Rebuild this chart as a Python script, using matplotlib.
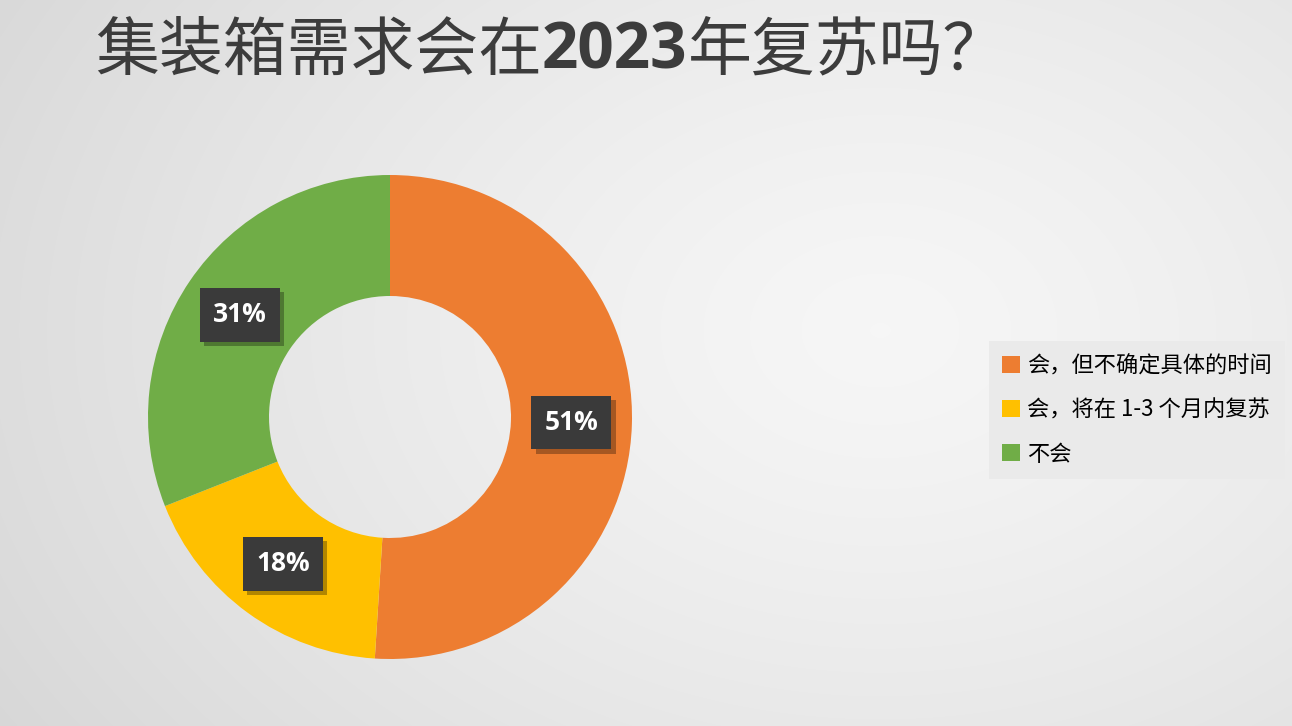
import numpy as np
import matplotlib
matplotlib.use("Agg")
import matplotlib.pyplot as plt
from matplotlib.patches import Patch
import matplotlib.patheffects as pe

plt.rcParams['font.family'] = ['Noto Sans CJK SC', 'DejaVu Sans']

# data
categories = ["会，但不确定具体的时间", "会，将在 1-3 个月内复苏", "不会"]
shares = [51, 18, 31]
colors = ["#ED7D31", "#FFC000", "#70AD47"]
title_parts = ["集装箱需求会在", "2023", "年复苏吗？"]

W, H = 1292, 726
fig = plt.figure(figsize=(W / 100, H / 100), dpi=100)

# gray radial background
bg = fig.add_axes([0, 0, 1, 1])
yy, xx = np.mgrid[0:H, 0:W]
d = np.sqrt(((xx - 880) / 900.0) ** 2 + ((yy - 330) / 650.0) ** 2)
shade = 0.965 - 0.10 * np.clip(d, 0, 1.3) ** 1.3
rgb = np.dstack([shade, shade, shade])
bg.imshow(rgb, extent=[0, W, H, 0], aspect="auto", interpolation="bilinear")
bg.set_xlim(0, W)
bg.set_ylim(H, 0)
bg.axis("off")

# donut
cx, cy, R = 390, 417, 242
ax = fig.add_axes([(cx - R) / W, (H - cy - R) / H, 2 * R / W, 2 * R / H])
wedges, texts, autotexts = ax.pie(
    shares, colors=colors, startangle=90, counterclock=False,
    autopct="%d%%", pctdistance=0.75,
    wedgeprops=dict(width=0.5, edgecolor="none"))
for t in autotexts:
    t.set_color("white")
    t.set_fontsize(19)
    t.set_fontweight("bold")
    t.set_family(["Open Sans", "DejaVu Sans"])
    t.set_bbox(dict(boxstyle="square,pad=0.5", facecolor="#3a3a3a", edgecolor="none"))
    t.get_bbox_patch().set_path_effects([pe.SimplePatchShadow(offset=(3, -3), shadow_rgbFace="black", alpha=0.3),
                                         pe.Normal()])
ax.set_xlim(-1, 1)
ax.set_ylim(-1, 1)
ax.set_aspect("auto")
ax.axis("off")

# legend
handles = [Patch(facecolor=c, edgecolor="none") for c in colors]
leg = fig.legend(handles, categories, loc="upper left",
                 bbox_to_anchor=(978 / W, 1 - 330 / H),
                 fontsize=16, frameon=True, facecolor="#eaeaea", edgecolor="none",
                 fancybox=False, framealpha=1, handlelength=0.8, handleheight=0.8,
                 handletextpad=0.3, labelspacing=0.95, borderpad=0.6)

# title with bold digits
fig.canvas.draw()
renderer = fig.canvas.get_renderer()
x = 95 / W
ty = 1 - 52 / H
for i, part in enumerate(title_parts):
    t = fig.text(x, ty, part, fontsize=46, color="#3c3c3c", va="center",
                 fontweight="bold" if i == 1 else "normal",
                 family=["Open Sans", "DejaVu Sans"] if i == 1 else ["Noto Sans CJK SC", "DejaVu Sans"])
    bb = t.get_window_extent(renderer=renderer)
    x = bb.x1 / W

fig.savefig("out.png", dpi=100)
